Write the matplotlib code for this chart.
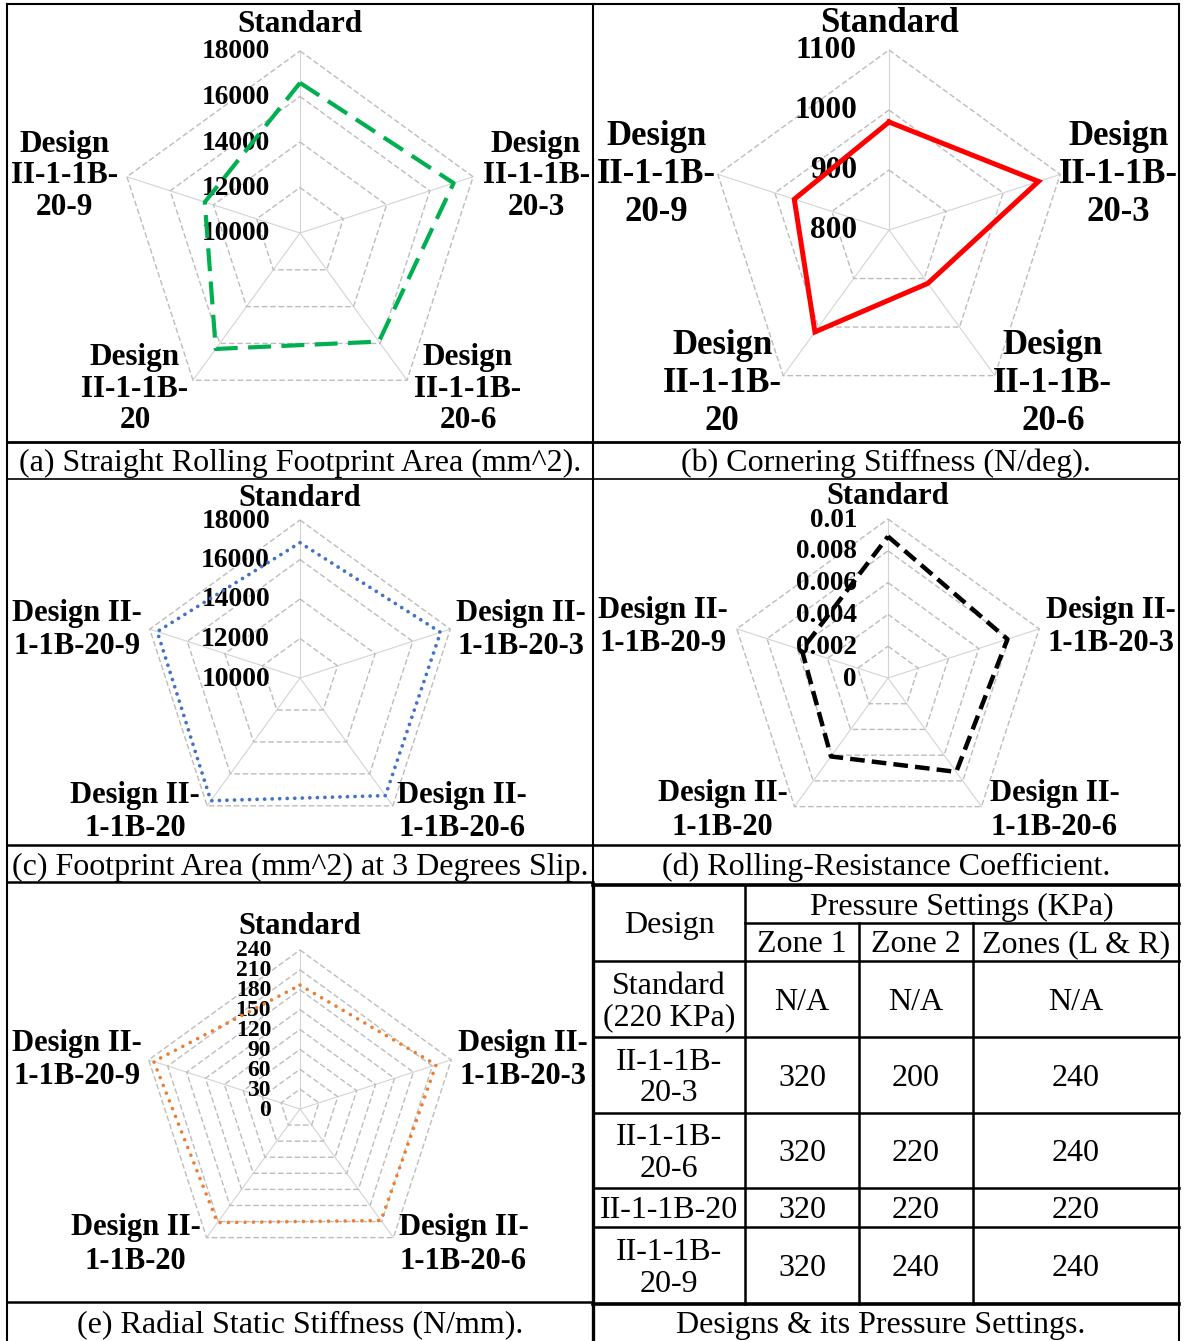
import numpy as np
import matplotlib
matplotlib.use("Agg")
import matplotlib.pyplot as plt
from matplotlib.lines import Line2D

W, H, DPI = 1185, 1341, 100
SERIF = "Liberation Serif"

# ---------------------------------------------------------------- data
labels_stacked = ["Standard", "Design\nII-1-1B-\n20-3", "Design\nII-1-1B-\n20-6",
                  "Design\nII-1-1B-\n20", "Design\nII-1-1B-\n20-9"]
labels_wrapped = ["Standard", "Design II-\n1-1B-20-3", "Design II-\n1-1B-20-6",
                  "Design II-\n1-1B-20", "Design II-\n1-1B-20-9"]

straight_area = [16600, 17100, 15900, 16300, 14400]
straight_area_ticks = [10000, 12000, 14000, 16000, 18000]

cornering = [980, 1062, 910, 1010, 966]
cornering_ticks = [800, 900, 1000, 1100]

slip_area = [16850, 17480, 17360, 17680, 17600]
slip_area_ticks = [10000, 12000, 14000, 16000, 18000]

rolling_res = [0.0089, 0.0079, 0.0073, 0.0061, 0.0057]
rolling_res_ticks = [0, 0.002, 0.004, 0.006, 0.008, 0.01]

radial = [187, 216, 208, 212, 232]
radial_ticks = [0, 30, 60, 90, 120, 150, 180, 210, 240]

table_designs = ["Standard\n(220 KPa)", "II-1-1B-\n20-3", "II-1-1B-\n20-6",
                 "II-1-1B-20", "II-1-1B-\n20-9"]
zone1 = ["N/A", "320", "320", "320", "320"]
zone2 = ["N/A", "200", "220", "220", "240"]
zones_lr = ["N/A", "240", "240", "220", "240"]

captions = {
    "a": "(a) Straight Rolling Footprint Area (mm^2).",
    "b": "(b) Cornering Stiffness (N/deg).",
    "c": "(c) Footprint Area (mm^2) at 3 Degrees Slip.",
    "d": "(d) Rolling-Resistance Coefficient.",
    "e": "(e) Radial Static Stiffness (N/mm).",
    "t": "Designs & its Pressure Settings.",
}

# ---------------------------------------------------------------- figure
fig = plt.figure(figsize=(W / DPI, H / DPI), dpi=DPI)
fig.patch.set_facecolor("white")


def fx(x):
    return x / W


def fy(y):
    return 1 - y / H


def hline(y, x0, x1, lw=1.5):
    fig.add_artist(Line2D([fx(x0), fx(x1)], [fy(y), fy(y)], transform=fig.transFigure,
                          color="black", lw=lw, solid_capstyle="projecting"))


def vline(x, y0, y1, lw=1.5):
    fig.add_artist(Line2D([fx(x), fx(x)], [fy(y0), fy(y1)], transform=fig.transFigure,
                          color="black", lw=lw, solid_capstyle="projecting"))


def ftext(x, y, s, size=23, **kw):
    # slight downward nudge so glyphs sit optically centred in their cell
    fig.text(fx(x), fy(y + 3), s, ha="center", va="center", fontsize=size,
             family=SERIF, **kw)


def radar(cx, cy, R, values, ticks, labels, offsets, color, ls, lw,
          label_size=22.5, tick_size=19.7, spacing=1.12, tick_gap=30,
          capstyle="butt"):
    ax = fig.add_axes([fx(cx - R), fy(cy + R), 2 * R / W, 2 * R / H],
                      projection="polar")
    ax.set_theta_offset(np.pi / 2)
    ax.set_theta_direction(-1)
    ax.set_ylim(ticks[0], ticks[-1])
    ax.set_axis_off()
    n = len(values)
    theta = [i * 2 * np.pi / n for i in range(n)]
    closed_t = theta + theta[:1]
    # spokes
    for t in theta:
        ax.plot([t, t], [ticks[0], ticks[-1]], color="#d4d4d4", lw=0.8,
                clip_on=False, zorder=1)
    # polygonal rings
    for v in ticks[1:]:
        ax.plot(closed_t, [v] * (n + 1), color="#bdbdbd", lw=1.0,
                ls=(0, (4, 2)), clip_on=False, zorder=1)
    # series
    ax.plot(closed_t, list(values) + [values[0]], color=color, lw=lw, ls=ls,
            dash_capstyle=capstyle, solid_joinstyle="miter", clip_on=False,
            zorder=4)
    # radial tick labels
    for v in ticks:
        ax.annotate(f"{v:g}", xy=(0, v), xytext=(-tick_gap, -1),
                    textcoords="offset pixels", ha="right", va="center",
                    fontsize=tick_size, fontweight="bold", family=SERIF,
                    annotation_clip=False, zorder=2)
    # category labels
    for t, lab, (dx, dy) in zip(theta, labels, offsets):
        ax.annotate(lab, xy=(t, ticks[-1]), xytext=(dx, dy),
                    textcoords="offset pixels", ha="center", va="center",
                    fontsize=label_size, fontweight="bold", family=SERIF,
                    linespacing=spacing, annotation_clip=False, zorder=2)
    return ax


# (a) straight rolling footprint area
radar(300, 233, 182, straight_area, straight_area_ticks, labels_stacked,
      [(0, 26), (63, 1), (61, -9), (-58, -9), (-62, 1)],
      "#00b050", (0, (5.5, 2.5)), 3.0, spacing=1.12, tick_gap=30)

# (b) cornering stiffness
radar(889, 230, 180, cornering, cornering_ticks, labels_stacked,
      [(0, 27), (58, 0), (58, -8), (-61, -8), (-61, 0)],
      "#ff0000", "-", 3.6, label_size=25, tick_size=22.5, spacing=1.2,
      tick_gap=32)

# (c) footprint area at 3 degrees slip
radar(300, 678, 158, slip_area, slip_area_ticks, labels_wrapped,
      [(0, 22), (71, -1), (69, -6), (-72, -6), (-73, -1)],
      "#4472c4", (0, (0.01, 2.0)), 2.7, label_size=22, tick_size=19.9,
      spacing=1.2, tick_gap=30, capstyle="round")

# (d) rolling-resistance coefficient
radar(888, 678, 159, rolling_res, rolling_res_ticks, labels_wrapped,
      [(0, 23), (72, 2), (73, -4), (-72, -4), (-74, 2)],
      "black", (0, (3.3, 1.6)), 3.2, label_size=22, tick_size=19.5,
      spacing=1.2, tick_gap=31)

# (e) radial static stiffness
radar(300, 1109, 159, radial, radial_ticks, labels_wrapped,
      [(0, 24), (72, 0), (70, -7), (-71, -7), (-72, 0)],
      "#ed7d31", (0, (0.01, 2.3)), 2.6, label_size=22, tick_size=17,
      spacing=1.2, tick_gap=29, capstyle="round")

# ---------------------------------------------------------------- frame
hline(4, 7, 1179, 1.5)
vline(7, 4, 1341, 1.5)
vline(1179, 4, 1341, 1.5)
vline(593, 4, 885, 1.5)
vline(593, 885, 1341, 2.4)
hline(442, 7, 1179, 2.0)
hline(479, 7, 1179, 1.2)
hline(845, 7, 1179, 1.8)
hline(882, 7, 593, 1.8)
hline(885, 593, 1179, 2.6)
hline(1302, 7, 593, 1.8)
hline(1304, 593, 1179, 2.6)

# captions
ftext(300, 460, captions["a"])
ftext(886, 460, captions["b"])
ftext(300, 864, captions["c"])
ftext(886, 864, captions["d"])
ftext(300, 1323, captions["e"])
ftext(881, 1323, captions["t"])

# ---------------------------------------------------------------- table
col_x = [593, 745, 859, 973, 1179]
row_y = [961, 1037, 1113, 1188, 1227, 1304]
vline(col_x[1], 885, 1304, 1.8)
vline(col_x[2], 923, 1304, 1.8)
vline(col_x[3], 923, 1304, 1.8)
hline(923, col_x[1], col_x[4], 1.8)
for y in row_y[:-1]:
    hline(y, col_x[0], col_x[4], 1.8)

ftext((col_x[0] + col_x[1]) / 2, 923, "Design")
ftext((col_x[1] + col_x[4]) / 2, 904, "Pressure Settings (KPa)")
for i, head in enumerate(["Zone 1", "Zone 2", "Zones (L & R)"]):
    ftext((col_x[i + 1] + col_x[i + 2]) / 2, 942, head)

tops = [961] + row_y[1:-1]
for r, (d, z1, z2, zl) in enumerate(zip(table_designs, zone1, zone2, zones_lr)):
    yc = (tops[r] + row_y[r + 1]) / 2
    ftext((col_x[0] + col_x[1]) / 2, yc, d, linespacing=1.12)
    for i, val in enumerate([z1, z2, zl]):
        ftext((col_x[i + 1] + col_x[i + 2]) / 2, yc, val)

fig.savefig("out.png", dpi=DPI, facecolor="white")
